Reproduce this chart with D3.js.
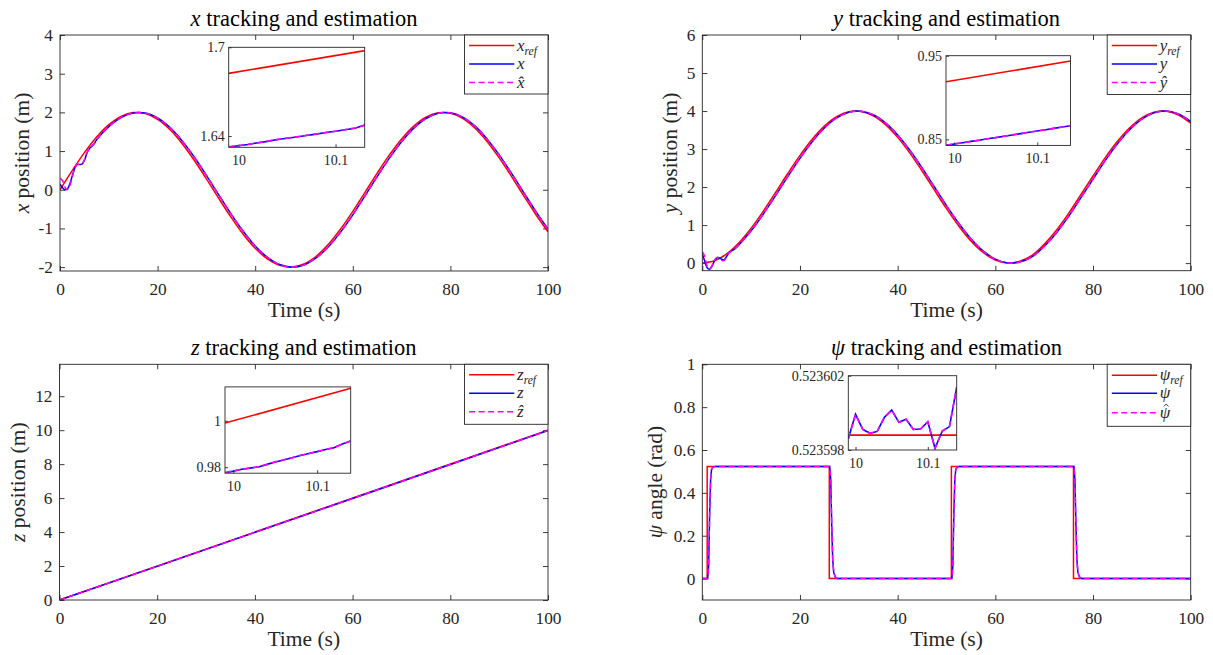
<!DOCTYPE html>
<html lang="en">
<head>
<meta charset="UTF-8">
<script src="https://cdn.jsdelivr.net/npm/d3@7"></script>
<title>Tracking and estimation</title>
<style>
    body {
        margin: 0;
        background: #fff;
    }

    svg {
        display: block;
    }
</style>
</head>
<body>
<script>
    /*------------------------- data -------------------------*/
    // time grid of the reference signals (s)
    const tRef = [0, 2.5, 5, 7.5, 10, 12.5, 15, 17.5, 20, 22.5, 25, 27.5, 30, 32.5, 35, 37.5, 40, 42.5, 45, 47.5,
        50, 52.5, 55, 57.5, 60, 62.5, 65, 67.5, 70, 72.5, 75, 77.5, 80, 82.5, 85, 87.5, 90, 92.5, 95, 97.5, 100];
    // time grid of the measured / estimated signals (s)
    const tEst = [0, 0.5, 1, 1.5, 2, 2.5, 3, 3.5, 4, 4.5, 5, 5.5, 6, 6.5, 7, 7.5,
        10, 12.5, 15, 17.5, 20, 22.5, 25, 27.5, 30, 32.5, 35, 37.5, 40, 42.5, 45, 47.5,
        50, 52.5, 55, 57.5, 60, 62.5, 65, 67.5, 70, 72.5, 75, 77.5, 80, 82.5, 85, 87.5, 90, 92.5, 95, 97.5, 100];

    const xRef = [0, 0.495, 0.959, 1.363, 1.683, 1.898, 1.995, 1.968, 1.819, 1.556, 1.197, 0.763, 0.282, -0.217,
        -0.702, -1.143, -1.514, -1.789, -1.955, -1.998, -1.918, -1.718, -1.411, -1.016, -0.559, -0.066, 0.430,
        0.900, 1.314, 1.646, 1.876, 1.989, 1.979, 1.846, 1.597, 1.249, 0.824, 0.348, -0.150, -0.639, -1.088];
    const xAct = [0.15, 0.05, 0.0, 0.02, 0.15, 0.35, 0.55, 0.65, 0.65, 0.66, 0.76, 0.94, 1.06, 1.12, 1.19, 1.29,
        1.632, 1.867, 1.986, 1.982, 1.855, 1.612, 1.269, 0.848, 0.373, -0.125, -0.615, -1.066, -1.454, -1.747,
        -1.933, -2.000, -1.943, -1.763, -1.475, -1.095, -0.648, -0.158, 0.341, 0.817, 1.242, 1.592, 1.842, 1.978,
        1.988, 1.879, 1.650, 1.314, 0.901, 0.428, -0.066, -0.559, -1.017];
    const xEst = [0.30, 0.24, 0.07, 0.0, 0.10, 0.32, 0.55, 0.66, 0.66, 0.67, 0.78, 0.95, 1.07, 1.13, 1.20, 1.30,
        1.633, 1.868, 1.986, 1.981, 1.854, 1.611, 1.268, 0.846, 0.371, -0.127, -0.616, -1.067, -1.455, -1.748,
        -1.934, -2.000, -1.942, -1.762, -1.473, -1.093, -0.646, -0.156, 0.343, 0.819, 1.244, 1.593, 1.843, 1.979,
        1.987, 1.878, 1.649, 1.312, 0.899, 0.426, -0.068, -0.561, -1.019];

    const yRef = [0, 0.062, 0.245, 0.537, 0.919, 1.369, 1.859, 2.356, 2.832, 3.256, 3.602, 3.849, 3.980, 3.988,
        3.873, 3.641, 3.307, 2.892, 2.422, 1.925, 1.433, 0.977, 0.583, 0.278, 0.080, 0.001, 0.047, 0.200, 0.492,
        0.863, 1.307, 1.798, 2.291, 2.774, 3.204, 3.561, 3.822, 3.970, 3.994, 3.895, 3.678];
    const yAct = [0.25, 0.05, -0.12, -0.16, -0.08, 0.06, 0.14, 0.14, 0.10, 0.09, 0.18, 0.28, 0.32, 0.36, 0.41, 0.48,
        0.849, 1.290, 1.775, 2.274, 2.756, 3.191, 3.552, 3.817, 3.968, 3.997, 3.902, 3.689, 3.371, 2.967, 2.504,
        2.009, 1.513, 1.049, 0.642, 0.320, 0.103, 0.003, 0.029, 0.164, 0.437, 0.794, 1.228, 1.714, 2.208, 2.696,
        3.137, 3.509, 3.788, 3.955, 3.999, 3.922, 3.724];
    const yEst = [0.30, 0.18, -0.08, -0.15, -0.06, 0.08, 0.15, 0.13, 0.07, 0.07, 0.17, 0.27, 0.32, 0.37, 0.42, 0.48,
        0.850, 1.291, 1.776, 2.275, 2.757, 3.192, 3.553, 3.818, 3.968, 3.997, 3.901, 3.688, 3.370, 2.966, 2.503,
        2.008, 1.512, 1.048, 0.641, 0.319, 0.102, 0.003, 0.030, 0.165, 0.438, 0.795, 1.229, 1.715, 2.209, 2.697,
        3.138, 3.510, 3.789, 3.956, 3.999, 3.921, 3.723];

    const zRefT = [0, 100];
    const zRef = [0, 10];
    const zEstT = [0, 20, 40, 60, 80, 100];
    const zAct = [0, 1.98, 3.98, 5.98, 7.98, 9.98];
    const zEst = [0, 1.981, 3.981, 5.981, 7.981, 9.981];

    const psiRefT = [0, 1, 1, 26, 26, 51, 51, 76, 76, 100];
    const psiRef = [0, 0, 0.5236, 0.5236, 0, 0, 0.5236, 0.5236, 0, 0];
    const psiEstT = [0, 1.1, 1.3, 1.5, 1.7, 1.9, 2.2, 2.6, 26.1, 26.3, 26.5, 26.7, 26.9, 27.2, 27.6,
        51.1, 51.3, 51.5, 51.7, 51.9, 52.2, 52.6, 76.1, 76.3, 76.5, 76.7, 76.9, 77.2, 77.6, 100];
    const psiAct = [0, 0, 0.06, 0.30, 0.46, 0.51, 0.52, 0.5236, 0.5236, 0.46, 0.25, 0.09, 0.03, 0.008, 0,
        0, 0.06, 0.30, 0.46, 0.51, 0.52, 0.5236, 0.5236, 0.46, 0.25, 0.09, 0.03, 0.008, 0, 0];
    const psiEst = [0, 0, 0.06, 0.30, 0.46, 0.51, 0.52, 0.5236, 0.5236, 0.46, 0.25, 0.09, 0.03, 0.008, 0,
        0, 0.06, 0.30, 0.46, 0.51, 0.52, 0.5236, 0.5236, 0.46, 0.25, 0.09, 0.03, 0.008, 0, 0];

    // zoomed insets, t = 9.99 ... 10.14 s
    const tIn = [9.99, 10.00, 10.01, 10.02, 10.03, 10.04, 10.05, 10.06, 10.07, 10.08, 10.09, 10.10, 10.11, 10.12, 10.13, 10.14];
    const tInRef = [9.99, 10.14];
    const xInRef = [1.6824, 1.6988];
    const xInAct = [1.6326, 1.6334, 1.6343, 1.6355, 1.6364, 1.6377, 1.6385, 1.6394, 1.6404, 1.6413, 1.6424, 1.6432, 1.6443, 1.6453, 1.6474, 1.6484];
    const xInEst = [1.6327, 1.6335, 1.6345, 1.6354, 1.6366, 1.6376, 1.6386, 1.6395, 1.6405, 1.6414, 1.6423, 1.6433, 1.6444, 1.6455, 1.6472, 1.6483];
    const yInRef = [0.9189, 0.9436];
    const yInAct = [0.8428, 0.8444, 0.8459, 0.8476, 0.8490, 0.8507, 0.8521, 0.8538, 0.8553, 0.8569, 0.8585, 0.8600, 0.8616, 0.8631, 0.8647, 0.8663];
    const yInEst = [0.8429, 0.8445, 0.8460, 0.8475, 0.8491, 0.8506, 0.8522, 0.8537, 0.8554, 0.8568, 0.8586, 0.8601, 0.8615, 0.8632, 0.8648, 0.8664];
    const zInRef = [0.9990, 1.0140];
    const zInAct = [0.9776, 0.9783, 0.9791, 0.9796, 0.9801, 0.9812, 0.9822, 0.9831, 0.9841, 0.9850, 0.9859, 0.9867, 0.9876, 0.9884, 0.9900, 0.9913];
    const zInEst = [0.9777, 0.9784, 0.9790, 0.9797, 0.9802, 0.9811, 0.9823, 0.9832, 0.9840, 0.9851, 0.9858, 0.9868, 0.9875, 0.9885, 0.9899, 0.9914];
    const psiInRef = [0.5235988, 0.5235988];
    const psiInAct = [0.52359861, 0.52359992, 0.52359911, 0.52359890, 0.52359900, 0.52359976, 0.52360015, 0.52359949,
        0.52359965, 0.52359911, 0.52359913, 0.52359952, 0.52359809, 0.52359902, 0.52359926, 0.52360137];
    const psiInEst = [0.52359861, 0.52359992, 0.52359911, 0.52359890, 0.52359900, 0.52359976, 0.52360015, 0.52359949,
        0.52359965, 0.52359911, 0.52359913, 0.52359952, 0.52359809, 0.52359902, 0.52359926, 0.52360137];

    // tick labels
    const timeTicks = [0, 20, 40, 60, 80, 100];
    const xTicksY = [-2, -1, 0, 1, 2, 3, 4];
    const yTicksY = [0, 1, 2, 3, 4, 5, 6];
    const zTicksY = [0, 2, 4, 6, 8, 10, 12];
    const psiTicksY = [0, 0.2, 0.4, 0.6, 0.8, 1];
    const inTicksT = [10, 10.1];

    /*------------------------- setup -------------------------*/
    const serif = "'Liberation Serif', 'Times New Roman', serif";
    const ink = "#262626";
    const cRef = "#ff0000", cAct = "#0000ff", cEst = "#ff00ff";
    const smooth = d3.curveCatmullRom.alpha(0.5);

    const svg = d3.select("body").append("svg")
        .attr("width", 1213)
        .attr("height", 655)
        .attr("font-family", serif);

    const zip = (t, v) => t.map((d, i) => [d, v[i]]);

    // text with italic math parts and subscripts
    function rich(sel, parts, size) {
        sel.attr("font-family", serif);
        parts.forEach(p => {
            const ts = sel.append("tspan").text(p.t);
            if (p.it) ts.attr("font-style", "italic");
            if (p.sub) ts.attr("font-size", size * 0.68).attr("dy", 4);
        });
        return sel;
    }

    const sym = (s, hat) => [{ t: s, it: 1, hat: hat }];

    const panels = [
        {
            box: { l: 60, r: 548, t: 35, b: 271 }, yDom: [-2.1, 4], yTicks: xTicksY, ylabX: 22, curve: smooth,
            title: [{ t: "x", it: 1 }, { t: " tracking and estimation" }],
            ylab: [{ t: "x", it: 1 }, { t: " position (m)" }],
            series: [[tRef, xRef], [tEst, xAct], [tEst, xEst]],
            legend: [[{ t: "x", it: 1 }, { t: "ref", it: 1, sub: 1 }], sym("x"), sym("x\u0302")],
            legH: 59, rows: [10.5, 29, 47.5],
            inset: {
                box: { l: 228.7, r: 364.7, t: 47.3, b: 147.3 }, xDom: [9.99, 10.13], yDom: [1.6324, 1.7],
                yTicks: [1.64, 1.7], fmt: d => String(d),
                series: [[tInRef, xInRef], [tIn, xInAct], [tIn, xInEst]]
            }
        },
        {
            box: { l: 702.3, r: 1190.7, t: 35, b: 270.7 }, yDom: [-0.2, 6], yTicks: yTicksY, ylabX: 670, curve: smooth,
            title: [{ t: "y", it: 1 }, { t: " tracking and estimation" }],
            ylab: [{ t: "y", it: 1 }, { t: " position (m)" }],
            series: [[tRef, yRef], [tEst, yAct], [tEst, yEst]],
            legend: [[{ t: "y", it: 1 }, { t: "ref", it: 1, sub: 1 }], sym("y"), sym("y\u0302")],
            legH: 59.5, rows: [10.5, 29, 47.5],
            inset: {
                box: { l: 946, r: 1070.5, t: 55.7, b: 145.4 }, xDom: [9.99, 10.14], yDom: [0.8428, 0.95],
                yTicks: [0.85, 0.95], fmt: d => String(d),
                series: [[tInRef, yInRef], [tIn, yInAct], [tIn, yInEst]]
            }
        },
        {
            box: { l: 59.5, r: 548, t: 364.3, b: 600 }, yDom: [0, 13.88], yTicks: zTicksY, ylabX: 17.5, curve: d3.curveLinear,
            title: [{ t: "z", it: 1 }, { t: " tracking and estimation" }],
            ylab: [{ t: "z", it: 1 }, { t: " position (m)" }],
            series: [[zRefT, zRef], [zEstT, zAct], [zEstT, zEst]],
            legend: [[{ t: "z", it: 1 }, { t: "ref", it: 1, sub: 1 }], sym("z"), sym("z\u0302")],
            legH: 60, rows: [10.5, 29, 47.5],
            inset: {
                box: { l: 225, r: 350.7, t: 386.9, b: 473.2 }, xDom: [9.99, 10.14], yDom: [0.9774, 1.0146],
                yTicks: [0.98, 1], fmt: d => String(d),
                series: [[tInRef, zInRef], [tIn, zInAct], [tIn, zInEst]]
            }
        },
        {
            box: { l: 702.3, r: 1190.7, t: 364.3, b: 600 }, yDom: [-0.1, 1], yTicks: psiTicksY, ylabX: 655, curve: d3.curveLinear,
            title: [{ t: "\u03c8", it: 1 }, { t: " tracking and estimation" }],
            ylab: [{ t: "\u03c8", it: 1 }, { t: " angle (rad)" }],
            series: [[psiRefT, psiRef], [psiEstT, psiAct], [psiEstT, psiEst]],
            legend: [[{ t: "\u03c8", it: 1 }, { t: "ref", it: 1, sub: 1 }], sym("\u03c8"), sym("\u03c8", 1)],
            legH: 62, rows: [11, 29, 48.5],
            inset: {
                box: { l: 848.3, r: 956.7, t: 375.7, b: 450 }, xDom: [9.99, 10.14], yDom: [0.523598, 0.523602],
                yTicks: [0.523598, 0.523602], fmt: d3.format(".6f"),
                series: [[tInRef, psiInRef], [tIn, psiInAct], [tIn, psiInEst]]
            }
        }
    ];

    const styles = [
        { c: cRef, dash: null },
        { c: cAct, dash: null },
        { c: cEst, dash: "6,3.5" }
    ];

    function styleAxis(g, size) {
        g.attr("font-family", serif).attr("font-size", size);
        g.select(".domain").remove();
        g.selectAll(".tick line").attr("stroke", ink).attr("stroke-width", 0.9);
        g.selectAll(".tick text").attr("fill", ink);
    }

    function drawLines(g, series, x, y, curve, clipId, width) {
        const line = d3.line().x(d => x(d[0])).y(d => y(d[1])).curve(curve);
        series.forEach((s, i) => {
            g.append("path")
                .attr("clip-path", `url(#${clipId})`)
                .attr("d", line(zip(s[0], s[1])))
                .attr("fill", "none")
                .attr("stroke", styles[i].c)
                .attr("stroke-width", width)
                .attr("stroke-dasharray", styles[i].dash);
        });
    }

    panels.forEach((p, k) => {
        const b = p.box;
        const g = svg.append("g");
        const x = d3.scaleLinear().domain([0, 100]).range([b.l, b.r]);
        const y = d3.scaleLinear().domain(p.yDom).range([b.b, b.t]);

        // ticks, inward on all four sides
        g.append("g").attr("transform", `translate(0,${b.b})`)
            .call(d3.axisBottom(x).tickValues(timeTicks).tickSize(-5).tickPadding(12).tickFormat(d => d))
            .call(a => styleAxis(a, 17.3));
        g.append("g").attr("transform", `translate(0,${b.t})`)
            .call(d3.axisTop(x).tickValues(timeTicks).tickSize(-5).tickFormat(""))
            .call(a => styleAxis(a, 17.3));
        g.append("g").attr("transform", `translate(${b.l},0)`)
            .call(d3.axisLeft(y).tickValues(p.yTicks).tickSize(-5).tickPadding(7).tickFormat(d => String(d)))
            .call(a => styleAxis(a, 17.3));
        g.append("g").attr("transform", `translate(${b.r},0)`)
            .call(d3.axisRight(y).tickValues(p.yTicks).tickSize(-5).tickFormat(""))
            .call(a => styleAxis(a, 17.3));

        // clip + lines
        const clipId = "clip" + k;
        svg.append("clipPath").attr("id", clipId).append("rect")
            .attr("x", b.l).attr("y", b.t).attr("width", b.r - b.l).attr("height", b.b - b.t);
        drawLines(g, p.series, x, y, p.curve, clipId, 1.5);

        g.append("rect")
            .attr("x", b.l).attr("y", b.t)
            .attr("width", b.r - b.l).attr("height", b.b - b.t)
            .attr("fill", "none").attr("stroke", ink).attr("stroke-width", 0.9);

        // title and axis labels
        rich(g.append("text")
            .attr("x", (b.l + b.r) / 2).attr("y", b.t - 9)
            .attr("text-anchor", "middle").attr("font-size", 22.5).attr("fill", "#000"), p.title, 22.5);
        g.append("text")
            .attr("x", (b.l + b.r) / 2).attr("y", b.b + 46)
            .attr("text-anchor", "middle").attr("font-size", 21.5).attr("fill", ink)
            .attr("font-family", serif)
            .text("Time (s)");
        rich(g.append("text")
            .attr("transform", `translate(${p.ylabX + 7},${(b.t + b.b) / 2}) rotate(-90)`)
            .attr("text-anchor", "middle").attr("font-size", 21.5).attr("fill", ink), p.ylab, 21.5);

        // inset
        const q = p.inset, ib = q.box;
        const xi = d3.scaleLinear().domain(q.xDom).range([ib.l, ib.r]);
        const yi = d3.scaleLinear().domain(q.yDom).range([ib.b, ib.t]);
        const ig = svg.append("g");
        ig.append("rect")
            .attr("x", ib.l).attr("y", ib.t).attr("width", ib.r - ib.l).attr("height", ib.b - ib.t)
            .attr("fill", "#fff");
        ig.append("g").attr("transform", `translate(0,${ib.b})`)
            .call(d3.axisBottom(xi).tickValues(inTicksT).tickSize(-3).tickPadding(8).tickFormat(d => String(d)))
            .call(a => styleAxis(a, 14));
        ig.append("g").attr("transform", `translate(${ib.l},0)`)
            .call(d3.axisLeft(yi).tickValues(q.yTicks).tickSize(-3).tickPadding(4).tickFormat(q.fmt))
            .call(a => styleAxis(a, 14));
        const iclip = "iclip" + k;
        svg.append("clipPath").attr("id", iclip).append("rect")
            .attr("x", ib.l).attr("y", ib.t).attr("width", ib.r - ib.l).attr("height", ib.b - ib.t);
        drawLines(ig, q.series, xi, yi, d3.curveLinear, iclip, 1.6);
        ig.append("rect")
            .attr("x", ib.l).attr("y", ib.t).attr("width", ib.r - ib.l).attr("height", ib.b - ib.t)
            .attr("fill", "none").attr("stroke", ink).attr("stroke-width", 0.9);

        // legend
        const lw = 83.5, lx = b.r - lw, ly = b.t;
        const lg = svg.append("g");
        lg.append("rect")
            .attr("x", lx).attr("y", ly).attr("width", lw).attr("height", p.legH)
            .attr("fill", "#fff").attr("stroke", ink).attr("stroke-width", 0.9);
        p.legend.forEach((lab, i) => {
            const ry = ly + p.rows[i];
            lg.append("line")
                .attr("x1", lx + 4.6).attr("x2", lx + 49.8).attr("y1", ry).attr("y2", ry)
                .attr("stroke", styles[i].c).attr("stroke-width", 1.5)
                .attr("stroke-dasharray", styles[i].dash);
            const txt = rich(lg.append("text")
                .attr("x", lx + 52.5).attr("y", ry + 5)
                .attr("font-size", 17).attr("fill", ink), lab, 17);
            // hat accent for the greek symbol, drawn as a small stroke
            if (lab[0].hat) {
                const cx = lx + 52.5 + txt.node().getComputedTextLength() / 2 + 1.2;
                lg.append("path")
                    .attr("d", `M${cx - 2.4},${ry - 6.3}L${cx},${ry - 8.8}L${cx + 2.4},${ry - 6.3}`)
                    .attr("fill", "none").attr("stroke", ink).attr("stroke-width", 0.9);
            }
        });
    });
</script>
</body>
</html>
